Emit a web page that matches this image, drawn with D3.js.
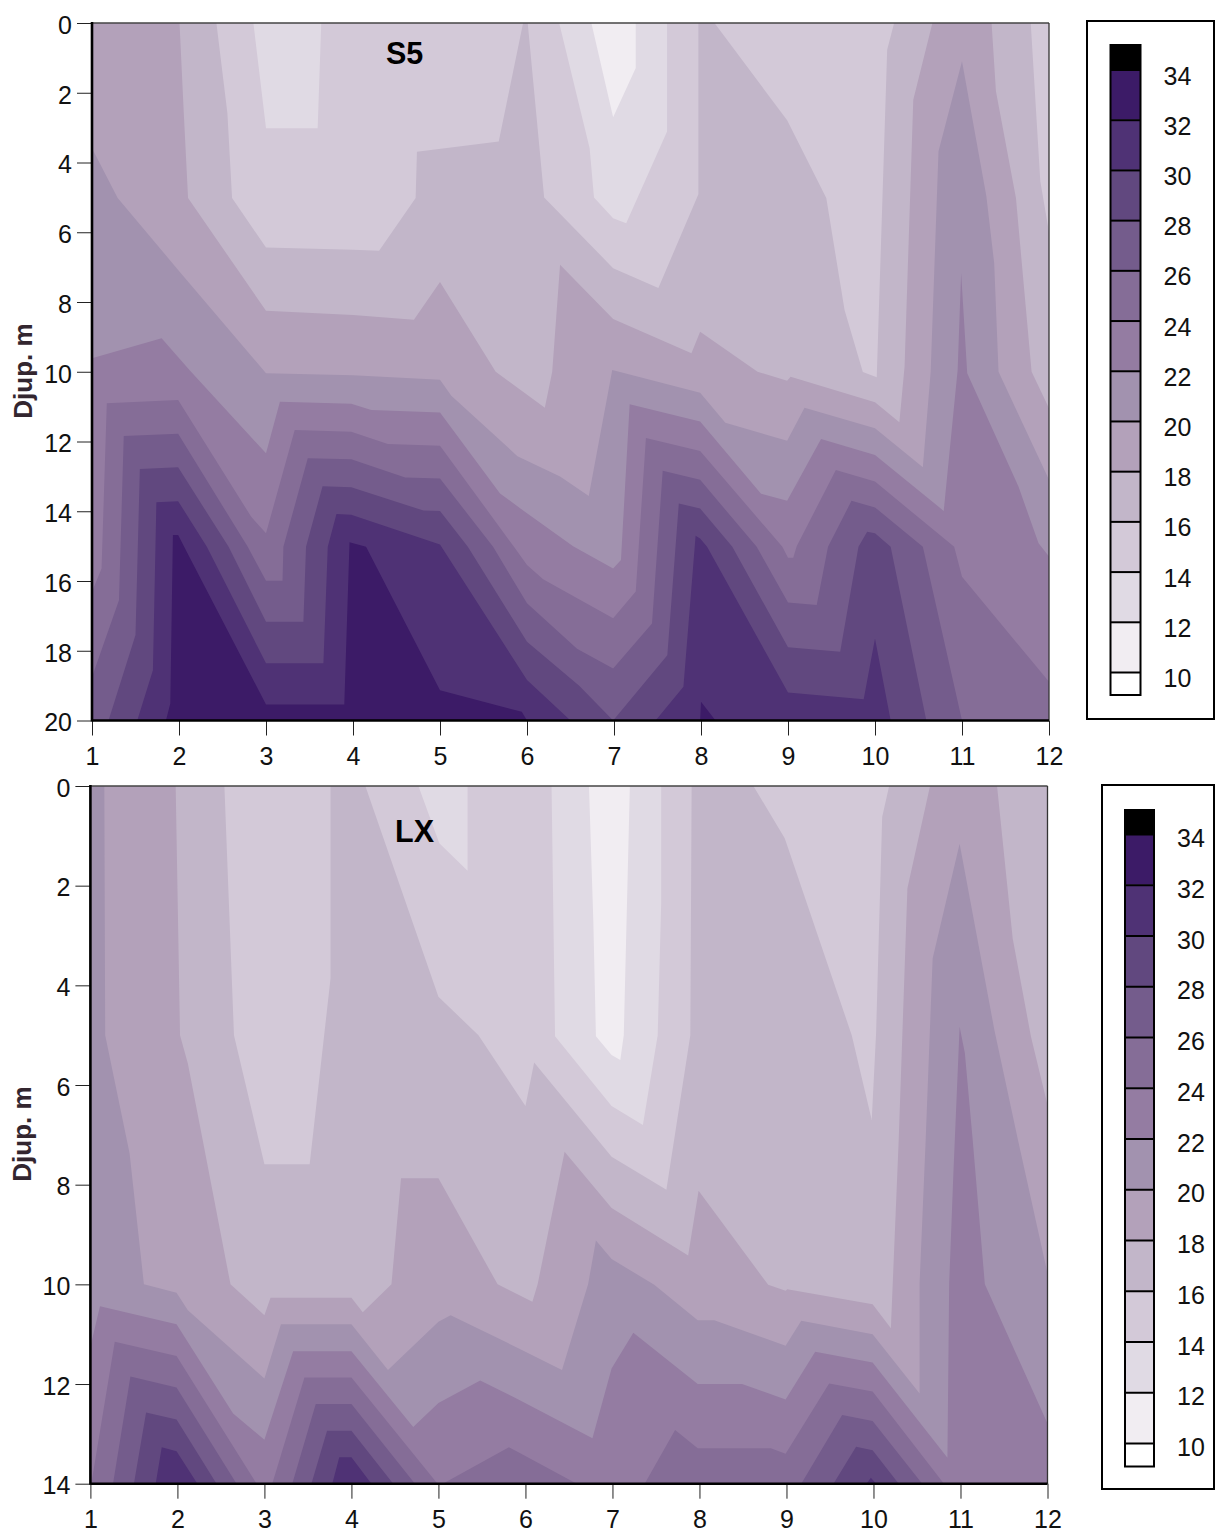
<!DOCTYPE html>
<html>
<head>
<meta charset="utf-8">
<script src="https://d3js.org/d3.v7.min.js"></script>
<style>
    body { margin: 0; background: #ffffff; }
    svg { display: block; }
    text { font-family: "Liberation Sans", Arial, sans-serif; }
</style>
</head>
<body>
<div id="chart"></div>
<script>
// Two depth / month contour panels, S5 and LX.
// Each boundary is the line [month, depth] above which the value drops under the level.

var months = [1, 2, 3, 4, 5, 6, 7, 8, 9, 10, 11, 12];
var s5DepthTicks = [0, 2, 4, 6, 8, 10, 12, 14, 16, 18, 20];
var lxDepthTicks = [0, 2, 4, 6, 8, 10, 12, 14];
var legendLevels = [10, 12, 14, 16, 18, 20, 22, 24, 26, 28, 30, 32, 34];

// colours: index 0 is under 10, last is over 34
var bandColors = ["#ffffff", "#f1edf2", "#e0dae4", "#d3c9d8", "#c2b6c9", "#b3a1ba", "#a292af",
    "#947ca2", "#856d97", "#745c8c", "#61487f", "#4f3275", "#3c1b67", "#000000"];

// S5 boundaries
var s5Ge12 = [[1,0],[6.74,0],[6.99,2.7],[7.25,1.29],[7.25,0],[12,0]];
var s5Ge14 = [[1,0],[2.855,0],[3,3.02],[3.594,3.02],[3.635,0],[6.37,0],[6.72,3.59],[6.77,5],[6.99,5.6],[7.14,5.74],[7.61,3.11],[7.61,0],[12,0]];
var s5Ge16 = [[1,0],[2.43,0],[2.556,2.58],[2.61,5.02],[3,6.44],[4,6.5],[4.3,6.53],[4.72,5.02],[4.735,3.69],[5.675,3.4],[5.955,0],[6.008,0],[6.197,5],[6.99,7.03],[7.51,7.6],[7.97,4.91],[7.97,0],[8.155,0],[8.99,2.79],[9.44,5.02],[9.65,8.23],[9.86,10.01],[10.02,10.16],[10.14,0.77],[10.22,0],[11.79,0],[11.9,4.54],[12,6]];
var s5Ge18 = [[1,0],[2.006,0],[2.055,2.58],[2.104,5.02],[3,8.25],[4,8.37],[4.7,8.51],[5,7.43],[5.64,10],[6.205,11.03],[6.29,10],[6.38,6.93],[6.99,8.49],[7.89,9.47],[7.99,8.85],[8.65,10],[8.99,10.26],[9.03,10.14],[10,10.875],[10.28,11.45],[10.34,9.85],[10.44,2.2],[10.66,0],[11.34,0],[11.39,1.96],[11.62,5.02],[11.8,10],[12,11.05]];
var s5Ge20 = [[1,3.59],[1.295,5.02],[1.99,7.08],[3,10.04],[4,10.1],[5,10.23],[5.13,10.69],[5.89,12.42],[6.38,13],[6.71,13.56],[6.98,9.95],[7.99,10.6],[8.28,11.46],[8.99,11.98],[9.19,11.03],[10,11.62],[10.55,12.74],[10.64,10],[10.73,3.68],[11,1.1],[11.28,4.97],[11.37,6.89],[11.42,10],[12,13.1]];
var s5Ge22 = [[1,9.61],[1.8,9.04],[2.12,9.95],[3,12.34],[3.16,10.86],[3.98,10.92],[4.21,11.1],[5,11.17],[5.69,13.49],[6,14.06],[6.53,15],[6.99,15.64],[7.08,15.4],[7.18,10.93],[7.99,11.43],[8.69,13.5],[8.99,13.7],[9.38,11.93],[10,12.39],[10.79,13.99],[10.95,9.95],[10.99,7.17],[11.06,10.04],[11.65,13.3],[11.88,14.92],[12,15.3]];
var s5Ge24 = [[1,16.31],[1.11,15.64],[1.17,10.9],[1.99,10.81],[2.83,14.16],[3,14.63],[3.33,11.67],[3.98,11.72],[4.4,12.07],[5,12.12],[5.85,15.02],[6,15.54],[6.185,15.95],[6.99,17.07],[7.25,16.3],[7.367,11.9],[7.99,12.27],[8.935,15.02],[9,15.33],[9.06,15.33],[9.1,15.0],[9.55,12.82],[10,13.15],[10.91,15.02],[11,15.88],[12,18.89]];
var s5Ge26 = [[1,18.75],[1.31,16.55],[1.365,11.84],[1.99,11.78],[2.79,15.02],[3,15.99],[3.19,15.99],[3.2,15.02],[3.48,12.48],[3.98,12.51],[4.6,13.03],[5,13.06],[5.61,15.02],[6,16.64],[6.575,17.94],[6.99,18.51],[7.437,17.22],[7.56,12.84],[7.99,13.1],[8.64,15.02],[9,16.62],[9.33,16.69],[9.46,15.02],[9.73,13.7],[10,13.89],[10.55,15.02],[11,20],[12,20]];
var s5Ge28 = [[1,20],[1.19,20],[1.5,17.55],[1.55,12.79],[1.99,12.74],[2.57,15.02],[3,17.17],[3.43,17.17],[3.46,15.02],[3.65,13.28],[3.98,13.31],[4.81,13.98],[5,13.99],[5.32,15.02],[6,17.74],[6.6,19],[6.99,20],[7.613,18.13],[7.745,13.78],[7.99,13.92],[8.36,15.02],[9,17.9],[9.6,18.03],[9.81,15.02],[9.91,14.59],[10,14.63],[10.18,15.02],[10.59,20],[12,20]];
var s5Ge30 = [[1,20],[1.52,20],[1.7,18.56],[1.74,13.74],[1.99,13.71],[2.32,15.02],[3,18.36],[3.66,18.36],[3.71,15.02],[3.81,14.08],[3.98,14.1],[5,14.95],[6,18.84],[6.5,20],[7.478,20],[7.798,19.03],[7.938,14.7],[7.99,14.78],[8.07,15.02],[9,19.2],[9.87,19.39],[10,17.65],[10.18,20],[12,20]];
var s5Ge32 = [[1,20],[1.85,20],[1.9,19.51],[1.93,14.68],[1.99,14.68],[2.12,15.31],[3,19.54],[3.9,19.54],[3.96,14.89],[4.15,15.02],[5,19.13],[5.94,19.75],[6,20],[7.99,20],[8,19.46],[8.167,20],[12,20]];

// LX boundaries
var lxGe12 = [[1,0],[6.73,0],[6.78,2.7],[6.81,5.02],[6.99,5.4],[7.09,5.5],[7.13,5],[7.2,0],[12,0]];
var lxGe14 = [[1,0],[4.77,0],[5.01,1.15],[5.335,1.7],[5.335,0],[6.3,0],[6.34,5.02],[6.99,6.42],[7.35,6.8],[7.52,5],[7.56,2.35],[7.56,0],[12,0]];
var lxGe16 = [[1,0],[2.54,0],[2.65,5],[3,7.59],[3.52,7.59],[3.76,3.86],[3.76,0],[4.16,0],[5,4.23],[5.46,5],[6,6.42],[6.1,5.55],[6.99,7.44],[7.62,8.1],[7.895,5],[7.91,0],[8.62,0],[8.98,1.05],[9.75,5],[9.98,6.7],[10.03,4.96],[10.1,0.62],[10.18,0],[12,0]];
var lxGe18 = [[1,0],[1.98,0],[2.03,5],[2.12,5.57],[2.29,7.1],[2.61,10],[3,10.62],[3.07,10.27],[4,10.27],[4.13,10.56],[4.46,10],[4.57,7.87],[5,7.87],[5.68,10],[6.08,10.35],[6.14,10],[6.45,7.34],[6.99,8.47],[7.87,9.42],[7.99,8.12],[8.79,10.01],[8.99,10.13],[9.01,10.1],[9.99,10.4],[10.2,10.88],[10.29,7.1],[10.39,2.05],[10.65,0],[11.42,0],[11.6,3.06],[11.81,5.03],[12,6.4]];
var lxGe20 = [[1,0],[1.16,0],[1.17,5],[1.45,7.37],[1.615,10],[1.99,10.17],[2.12,10.52],[3,11.89],[3.19,10.8],[4,10.8],[4.42,11.72],[5,10.75],[5.14,10.62],[5.93,11.29],[6.42,11.72],[6.72,10],[6.81,9.12],[6.99,9.49],[7.48,10.01],[7.98,10.72],[8.17,10.72],[8.99,11.23],[9.17,10.73],[9.99,11],[10.53,12.19],[10.53,9.98],[10.6,7.1],[10.68,3.46],[10.99,1.16],[11.39,4.9],[11.66,7.1],[12,9.78]];
var lxGe22 = [[1,11.25],[1.11,10.44],[1.99,10.8],[2.64,12.59],[3,13.12],[3.33,11.34],[4,11.34],[4.71,12.86],[5,12.38],[5.48,11.93],[5.93,12.32],[6.77,13.09],[6.99,11.69],[7.24,10.97],[7.98,12],[8.49,12],[8.99,12.31],[9.33,11.35],[9.99,11.57],[10.85,13.48],[10.87,9.98],[10.92,7.7],[10.99,4.83],[11.05,5.36],[11.14,7.1],[11.28,10],[12,12.79]];
var lxGe24 = [[1,14],[1.02,13.9],[1.28,11.15],[1.99,11.44],[2.91,14],[3.09,14],[3.46,11.87],[4,11.87],[4.99,14],[5.05,14],[5.81,13.27],[5.93,13.38],[6.59,14],[7.37,14],[7.72,12.92],[7.98,13.29],[8.82,13.29],[8.99,13.4],[9.49,11.99],[9.99,12.15],[10.81,14],[12,14]];
var lxGe26 = [[1,14],[1.26,14],[1.46,11.85],[1.99,12.07],[2.68,14],[3.32,14],[3.59,12.4],[4,12.4],[4.73,14],[9.17,14],[9.64,12.62],[9.99,12.74],[10.56,14],[12,14]];
var lxGe28 = [[1,14],[1.5,14],[1.64,12.57],[1.99,12.71],[2.45,14],[3.54,14],[3.72,12.94],[4,12.94],[4.48,14],[9.54,14],[9.8,13.26],[9.99,13.33],[10.29,14],[12,14]];
var lxGe30 = [[1,14],[1.75,14],[1.82,13.27],[1.99,13.35],[2.23,14],[3.78,14],[3.86,13.47],[4,13.47],[4.23,14],[9.92,14],[9.97,13.88],[10.03,14],[12,14]];

var s5Boundaries = [s5Ge12, s5Ge14, s5Ge16, s5Ge18, s5Ge20, s5Ge22, s5Ge24, s5Ge26, s5Ge28, s5Ge30, s5Ge32];
var lxBoundaries = [lxGe12, lxGe14, lxGe16, lxGe18, lxGe20, lxGe22, lxGe24, lxGe26, lxGe28, lxGe30];

var svg = d3.select("#chart")
    .append("svg")
    .attr("width", 1215)
    .attr("height", 1533);

function drawPanel(p) {

    var xScale = d3.scaleLinear().domain([1, 12]).range([p.left, p.right]);
    var yScale = d3.scaleLinear().domain([0, p.maxDepth]).range([p.top, p.bottom]);

    var line = d3.line()
        .x(function(d) { return xScale(d[0]); })
        .y(function(d) { return yScale(d[1]); });

    // lowest band covers the whole plot
    svg.append("rect")
        .attr("x", xScale(1))
        .attr("y", yScale(0))
        .attr("width", xScale(12) - xScale(1))
        .attr("height", yScale(p.maxDepth) - yScale(0))
        .attr("fill", bandColors[1]);

    // each level fills everything below its boundary
    p.boundaries.forEach(function(boundary, i) {
        var ring = boundary.concat([[12, p.maxDepth], [1, p.maxDepth]]);
        svg.append("path")
            .attr("d", line(ring) + "Z")
            .attr("fill", bandColors[i + 2]);
    });

    // thin frame on top and right
    svg.append("line")
        .attr("x1", xScale(1)).attr("x2", xScale(12))
        .attr("y1", yScale(0)).attr("y2", yScale(0))
        .attr("stroke", "#444444").attr("stroke-width", 1.3);

    svg.append("line")
        .attr("x1", xScale(12)).attr("x2", xScale(12))
        .attr("y1", yScale(0)).attr("y2", yScale(p.maxDepth))
        .attr("stroke", "#333333").attr("stroke-width", 1.3);

    var yAxis = d3.axisLeft(yScale)
        .tickValues(p.depthTicks)
        .tickSize(15)
        .tickPadding(5);

    var xAxis = d3.axisBottom(xScale)
        .tickValues(months)
        .tickFormat(d3.format("d"))
        .tickSize(15)
        .tickPadding(12);

    var gy = svg.append("g")
        .attr("transform", "translate(" + p.left + ",0)")
        .call(yAxis);

    var gx = svg.append("g")
        .attr("transform", "translate(0," + p.bottom + ")")
        .call(xAxis);

    [gy, gx].forEach(function(g) {
        g.selectAll(".domain").remove();
        g.selectAll(".tick line").attr("stroke", "#222222").attr("stroke-width", 1);
        g.selectAll("text")
            .attr("fill", "#111111")
            .attr("font-size", "25px")
            .attr("font-family", "Liberation Sans");
    });

    gy.selectAll("text").attr("dy", "0.41em");

    // thick axis lines
    svg.append("line")
        .attr("x1", xScale(1)).attr("x2", xScale(1))
        .attr("y1", yScale(0) - 1).attr("y2", yScale(p.maxDepth) + 1)
        .attr("stroke", "#000000").attr("stroke-width", 2.6);

    svg.append("line")
        .attr("x1", xScale(1)).attr("x2", xScale(12))
        .attr("y1", yScale(p.maxDepth)).attr("y2", yScale(p.maxDepth))
        .attr("stroke", "#000000").attr("stroke-width", 2.6);

    // panel name
    svg.append("text")
        .attr("x", p.nameX)
        .attr("y", p.nameY)
        .attr("fill", "#000000")
        .attr("font-size", "30.5px")
        .attr("font-weight", "bold")
        .text(p.name);

    // depth label
    svg.append("text")
        .attr("transform", "translate(" + p.labelX + "," + p.labelY + ") rotate(-90)")
        .attr("text-anchor", "middle")
        .attr("fill", "#33262f")
        .attr("font-size", "26px")
        .attr("font-weight", "bold")
        .text("Djup. m");
}

function drawLegend(l) {

    // box runs to the edge of the page
    svg.append("rect")
        .attr("x", l.boxLeft)
        .attr("y", l.boxTop)
        .attr("width", 1214 - l.boxLeft)
        .attr("height", l.boxBottom - l.boxTop)
        .attr("fill", "#ffffff")
        .attr("stroke", "#000000")
        .attr("stroke-width", 2);

    var yScale = d3.scaleLinear().domain([10, 34]).range([l.y10, l.y34]);

    // black cap over 34
    svg.append("rect")
        .attr("x", l.barLeft).attr("y", l.barTop)
        .attr("width", l.barWidth).attr("height", yScale(34) - l.barTop)
        .attr("fill", bandColors[13]);

    // one cell per band
    legendLevels.slice(0, -1).forEach(function(level, i) {
        svg.append("rect")
            .attr("x", l.barLeft)
            .attr("y", yScale(level + 2))
            .attr("width", l.barWidth)
            .attr("height", yScale(level) - yScale(level + 2))
            .attr("fill", bandColors[i + 1]);
    });

    svg.append("rect")
        .attr("x", l.barLeft).attr("y", yScale(10))
        .attr("width", l.barWidth).attr("height", l.barBottom - yScale(10))
        .attr("fill", bandColors[0]);

    svg.append("rect")
        .attr("x", l.barLeft).attr("y", l.barTop)
        .attr("width", l.barWidth).attr("height", l.barBottom - l.barTop)
        .attr("fill", "none")
        .attr("stroke", "#000000")
        .attr("stroke-width", 2);

    var legendAxis = d3.axisRight(yScale)
        .tickValues(legendLevels)
        .tickFormat(d3.format("d"))
        .tickSize(l.barWidth)
        .tickPadding(23);

    var g = svg.append("g")
        .attr("transform", "translate(" + l.barLeft + ",0)")
        .call(legendAxis);

    g.selectAll(".domain").remove();
    g.selectAll(".tick line").attr("stroke", "#000000").attr("stroke-width", 2);
    g.selectAll("text")
        .attr("fill", "#111111")
        .attr("font-size", "25px")
        .attr("font-family", "Liberation Sans")
        .attr("dy", l.labelDy);
}

drawPanel({
    name: "S5", nameX: 386, nameY: 64,
    labelX: 32, labelY: 371,
    left: 92, right: 1049, top: 23, bottom: 720.5,
    maxDepth: 20, depthTicks: s5DepthTicks, boundaries: s5Boundaries
});

drawPanel({
    name: "LX", nameX: 395, nameY: 842,
    labelX: 31, labelY: 1134,
    left: 90.4, right: 1047.5, top: 786, bottom: 1483.7,
    maxDepth: 14, depthTicks: lxDepthTicks, boundaries: lxBoundaries
});

drawLegend({
    boxLeft: 1087, boxTop: 21, boxBottom: 719,
    barLeft: 1110.5, barWidth: 30, barTop: 45, barBottom: 695,
    y10: 672, y34: 69.5, labelDy: "0.58em"
});

drawLegend({
    boxLeft: 1102, boxTop: 785, boxBottom: 1489,
    barLeft: 1125, barWidth: 29, barTop: 810, barBottom: 1466.5,
    y10: 1443, y34: 834, labelDy: "0.5em"
});
</script>
</body>
</html>
